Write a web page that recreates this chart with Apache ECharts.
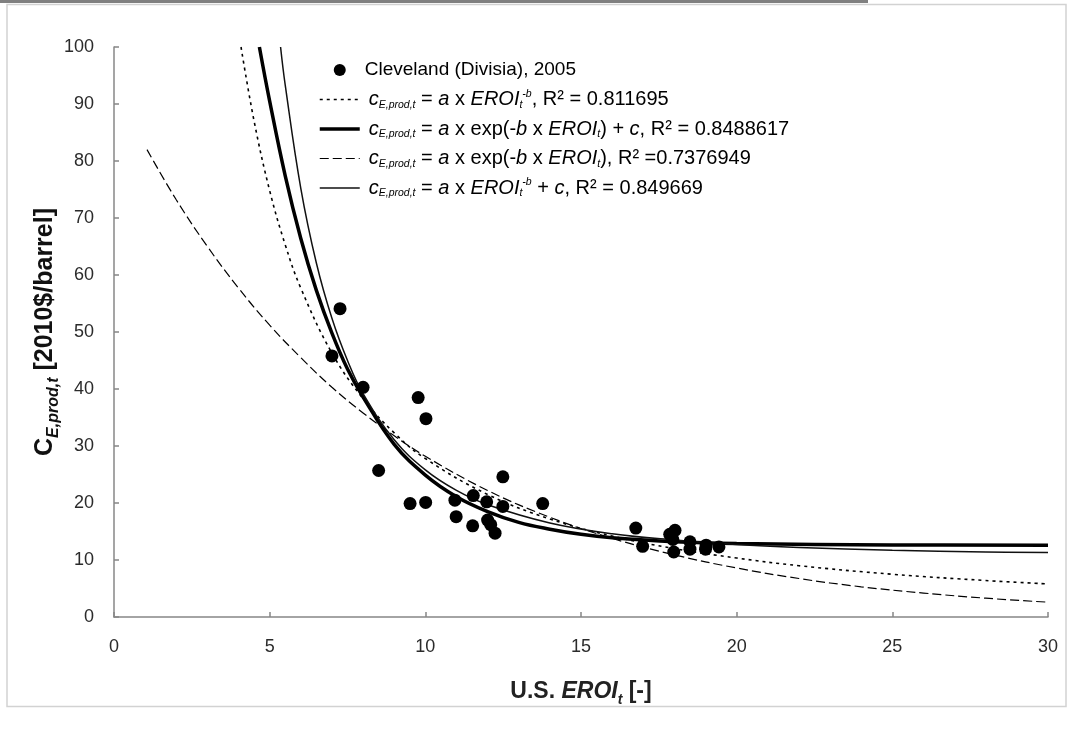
<!DOCTYPE html>
<html>
<head>
<meta charset="utf-8">
<script src="https://cdn.jsdelivr.net/npm/echarts@6/dist/echarts.min.js"></script>
<style>html,body{margin:0;padding:0;background:#fff;}#c{width:1068px;height:736px;}</style>
</head>
<body>
<div id="c"></div>
<script>
// Observed data (Cleveland, Divisia, 2005): [EROI, cost]
const clevelandPoints = [
  [7.0,45.8],[7.26,54.1],[8.0,40.3],[8.5,25.7],[9.51,19.9],[9.77,38.5],[10.02,34.8],[10.01,20.1],
  [10.95,20.5],[10.99,17.6],[11.54,21.3],[11.52,16.0],[11.97,20.2],[12.0,17.0],[12.1,16.2],[12.24,14.7],
  [12.49,24.6],[12.49,19.4],[13.77,19.9],
  [16.76,15.6],[16.98,12.4],[17.85,14.5],[18.02,15.2],[17.95,13.6],[17.98,11.4],[18.5,13.2],[18.5,11.9],
  [19.02,12.6],[19.0,11.9],[19.43,12.3]
];
// Fitted curves, values
const powerFit = [[4.08,100],[4.5,87.0],[5,74.8],[5.5,65.3],[6,57.7],[7,46.3],[8,38.3],[9,32.3],[10,27.8],[12,21.5],[14,17.2],[16,14.2],[18,12.0],[20,10.35],[22,9.0],[25,7.5],[28,6.4],[30,5.8]];
const expConstFit = [[4.67,100],[5,90.5],[5.5,77.4],[6,66.4],[6.5,57.3],[7,49.8],[7.5,43.5],[8,38.6],[9,30.3],[10,24.9],[11,21.1],[12,18.5],[13,16.6],[14,15.4],[15,14.5],[16,13.9],[18,13.2],[20,12.9],[25,12.65],[30,12.6]];
const expFit = [[1.06,82.0],[2,73.2],[3,65.0],[4,57.7],[5,51.2],[6,45.5],[7,40.3],[8,35.8],[9,31.8],[10,28.2],[12,22.2],[14,17.5],[16,13.8],[18,10.9],[20,8.6],[22,6.75],[24,5.3],[26,4.2],[28,3.3],[30,2.6]];
const powerConstFit = [[5.35,100],[5.5,93.3],[6,75.2],[6.5,62.1],[7,52.4],[7.5,45.0],[8,39.2],[9,31.1],[10,25.8],[11,22.2],[12,19.7],[14,16.5],[16,14.6],[18,13.5],[20,12.7],[22,12.2],[25,11.7],[28,11.4],[30,11.3]];

const xTicks = {min:0, max:30, interval:5};
const yTicks = {min:0, max:100, interval:10};

const names = ['Cleveland (Divisia), 2005','pow','expc','exp','powc'];
const legendLabels = {
  'Cleveland (Divisia), 2005': '{n0|Cleveland (Divisia), 2005}',
  'pow':  '{g| }{i|c}{sub|E,prod,t}{n| = }{i|a}{n| x }{i|EROI}{sub|t}{sup|-b}{n|, R² = 0.811695}',
  'expc': '{g| }{i|c}{sub|E,prod,t}{n| = }{i|a}{n| x exp(-}{i|b}{n| x }{i|EROI}{sub|t}{n|) + }{i|c}{n|, R² = 0.8488617}',
  'exp':  '{g| }{i|c}{sub|E,prod,t}{n| = }{i|a}{n| x exp(-}{i|b}{n| x }{i|EROI}{sub|t}{n|), R² =0.7376949}',
  'powc': '{g| }{i|c}{sub|E,prod,t}{n| = }{i|a}{n| x }{i|EROI}{sub|t}{sup|-b}{n| + }{i|c}{n|, R² = 0.849669}'
};

const FF = 'Liberation Sans, Arial, sans-serif';
const LFS = 20;
const chart = echarts.init(document.getElementById('c'));
chart.setOption({
  backgroundColor: '#fff',
  animation: false,
  graphic: [
    {type:'rect', shape:{x:7,y:4.5,width:1059,height:702}, style:{fill:'none', stroke:'#d2d2d2', lineWidth:1.5}, z:-1},
    {type:'rect', shape:{x:0,y:0,width:868,height:3}, style:{fill:'#808080'}, z:-1}
  ],
  grid: {left:114, right:20, top:47, bottom:119, containLabel:false},
  legend: {
    orient:'vertical', left:313, top:54, itemWidth:40, itemHeight:12, itemGap:7.5,
    data: [
      {name:names[0]},
      {name:names[1], itemStyle:{opacity:0}, lineStyle:{width:1.6, type:[3,4]}},
      {name:names[2], itemStyle:{opacity:0}, lineStyle:{width:3.5, type:'solid'}},
      {name:names[3], itemStyle:{opacity:0}, lineStyle:{width:1.2, type:[9,4]}},
      {name:names[4], itemStyle:{opacity:0}, lineStyle:{width:1.3, type:'solid'}}
    ],
    formatter: n => legendLabels[n],
    textStyle: {
      fontFamily: FF, color:'#000', fontSize:LFS, lineHeight:22,
      rich: {
        g:{fontFamily:FF, fontSize:LFS, lineHeight:22, width:4},
        n0:{fontFamily:FF, fontSize:19, color:'#000', lineHeight:22, verticalAlign:'middle'},
        n:{fontFamily:FF, fontSize:LFS, color:'#000', lineHeight:22, verticalAlign:'middle'},
        i:{fontFamily:FF, fontSize:LFS, fontStyle:'italic', color:'#000', lineHeight:22, verticalAlign:'middle'},
        sub:{fontFamily:FF, fontSize:10.5, fontStyle:'italic', color:'#000', lineHeight:22, verticalAlign:'bottom'},
        sup:{fontFamily:FF, fontSize:10.5, fontStyle:'italic', color:'#000', lineHeight:22, verticalAlign:'top'}
      }
    }
  },
  xAxis: {
    type:'value', min:xTicks.min, max:xTicks.max, interval:xTicks.interval,
    splitLine:{show:false},
    axisLine:{lineStyle:{color:'#878787', width:1.5}},
    axisTick:{inside:true, length:5, lineStyle:{color:'#878787', width:1.5}},
    axisLabel:{fontFamily:FF, fontSize:18, color:'#2b2b2b', margin:21},
    name:'{b|U.S. }{bi|EROI}{bs|t}{b| [-]}', nameLocation:'middle', nameGap:60, nameMoveOverlap:false,
    nameTextStyle:{rich:{
      b:{fontFamily:FF, fontSize:23, fontWeight:'bold', color:'#222'},
      bi:{fontFamily:FF, fontSize:23, fontWeight:'bold', fontStyle:'italic', color:'#222'},
      bs:{fontFamily:FF, fontSize:14, fontWeight:'bold', fontStyle:'italic', color:'#222', verticalAlign:'bottom', lineHeight:30}
    }}
  },
  yAxis: {
    type:'value', min:yTicks.min, max:yTicks.max, interval:yTicks.interval,
    splitLine:{show:false},
    axisLine:{lineStyle:{color:'#878787', width:1.5}},
    axisTick:{inside:true, length:5, lineStyle:{color:'#878787', width:1.5}},
    axisLabel:{fontFamily:FF, fontSize:18, color:'#2b2b2b', margin:20},
    name:'{b|C}{bs|E,prod,t}{b| [2010$/barrel]}', nameLocation:'middle', nameGap:52, nameRotate:90, nameMoveOverlap:false,
    nameTextStyle:{rich:{
      b:{fontFamily:FF, fontSize:25, fontWeight:'bold', color:'#111'},
      bs:{fontFamily:FF, fontSize:16, fontWeight:'bold', fontStyle:'italic', color:'#111', verticalAlign:'bottom', lineHeight:34}
    }}
  },
  series: [
    {name:names[0], type:'scatter', data:clevelandPoints, symbol:'circle', symbolSize:13, itemStyle:{color:'#000', opacity:1}, z:5},
    {name:names[1], type:'line', data:powerFit, symbol:'none', smooth:0.4,
      lineStyle:{color:'#000', width:1.6, type:[3,4]}, itemStyle:{color:'#000'}},
    {name:names[2], type:'line', data:expConstFit, symbol:'none', smooth:0.4,
      lineStyle:{color:'#000', width:3.5, type:'solid'}, itemStyle:{color:'#000'}},
    {name:names[3], type:'line', data:expFit, symbol:'none', smooth:0.4,
      lineStyle:{color:'#000', width:1.2, type:[9,4]}, itemStyle:{color:'#000'}},
    {name:names[4], type:'line', data:powerConstFit, symbol:'none', smooth:0.4,
      lineStyle:{color:'#111', width:1.5, type:'solid'}, itemStyle:{color:'#000'}}
  ]
});
</script>
</body>
</html>
